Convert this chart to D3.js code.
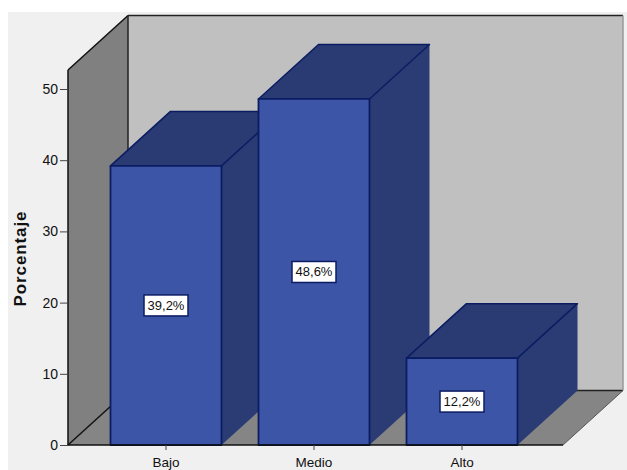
<!DOCTYPE html>
<html lang="es">
<head>
<meta charset="utf-8">
<script src="https://cdn.jsdelivr.net/npm/d3@7"></script>
<style>
  html, body { margin: 0; padding: 0; background: #fff; }
  svg { display: block; }
  text { font-family: "Liberation Sans", Arial, sans-serif; }
</style>
</head>
<body>
<svg id="chart" width="627" height="470"></svg>
<script>
// Nivel alcanzado: porcentaje por categoría
const categories = ["Bajo", "Medio", "Alto"];
const percentages = [39.2, 48.6, 12.2];
const percentLabels = ["39,2%", "48,6%", "12,2%"];
const yTicks = [0, 10, 20, 30, 40, 50];

const svg = d3.select("#chart");

// Oblique projection of the box: every depth edge shifts by the same offset
const depthX = 60, depthY = -54.5;
const frontLeft = 68, frontRight = 563, baseY = 445, topY = 70;

const y = d3.scaleLinear().domain([0, 50]).range([baseY, 89]);
const x = d3.scaleBand().domain(categories).range([92, 536])
  .paddingInner(0.25).paddingOuter(0.125);

const poly = (pts, fill, stroke, width) => svg.append("polygon")
  .attr("points", pts.map(p => p.join(",")).join(" "))
  .attr("fill", fill)
  .attr("stroke", stroke || "none")
  .attr("stroke-width", width || 0)
  .attr("stroke-linejoin", "round");

// Panel background
svg.append("rect").attr("x", 8).attr("y", 12).attr("width", 619).attr("height", 458).attr("fill", "#f0f0f0");

// Back wall, side wall and floor
poly([[frontLeft + depthX, topY + depthY], [frontRight + depthX, topY + depthY],
      [frontRight + depthX, baseY + depthY], [frontLeft + depthX, baseY + depthY]], "#c0c0c0");
poly([[frontLeft, topY], [frontLeft + depthX, topY + depthY],
      [frontLeft + depthX, baseY + depthY], [frontLeft, baseY]], "#808080");
poly([[frontLeft, baseY], [frontRight, baseY],
      [frontRight + depthX, baseY + depthY], [frontLeft + depthX, baseY + depthY]], "#858585");

const edge = (x1, y1, x2, y2, color, width) => svg.append("line")
  .attr("x1", x1).attr("y1", y1).attr("x2", x2).attr("y2", y2)
  .attr("stroke", color).attr("stroke-width", width);

edge(frontLeft, topY, frontLeft + depthX, topY + depthY, "#111", 1.5);
edge(frontLeft + depthX, topY + depthY, frontRight + depthX, topY + depthY, "#222", 1.5);
edge(frontLeft + depthX, topY + depthY, frontLeft + depthX, baseY + depthY, "#222", 1.5);
edge(frontLeft + depthX, baseY + depthY, frontRight + depthX, baseY + depthY, "#222", 1.5);
edge(frontRight + depthX, topY + depthY, frontRight + depthX, baseY + depthY, "#999", 1.5);
edge(frontLeft, baseY, frontLeft + depthX, baseY + depthY, "#111", 1.5);
edge(frontRight, baseY, frontRight + depthX, baseY + depthY, "#555", 1);

// Bars, painted left to right so nearer faces overlap correctly
const outline = "#0b1c62";
categories.forEach((cat, i) => {
  const x0 = x(cat), x1 = x0 + x.bandwidth(), yTop = y(percentages[i]);
  poly([[x1, yTop], [x1 + depthX, yTop + depthY], [x1 + depthX, baseY + depthY], [x1, baseY]], "#2b3c74");
  poly([[x0, yTop], [x1, yTop], [x1 + depthX, yTop + depthY], [x0 + depthX, yTop + depthY]], "#2a3a72", outline, 1.5);
  poly([[x0, yTop], [x1, yTop], [x1, baseY], [x0, baseY]], "#3d55a7", outline, 1.8);
});

// Percentage tags in the middle of each bar
categories.forEach((cat, i) => {
  const cx = x(cat) + x.bandwidth() / 2, cy = y(percentages[i] / 2);
  svg.append("rect").attr("x", cx - 22).attr("y", cy - 10.5).attr("width", 44).attr("height", 21)
    .attr("fill", "#fff").attr("stroke", outline).attr("stroke-width", 1.5);
  svg.append("text").attr("x", cx).attr("y", cy + 4.5).attr("text-anchor", "middle")
    .attr("font-size", 13).attr("fill", "#111").text(percentLabels[i]);
});

// Axes
const yAxis = svg.append("g").attr("transform", `translate(${frontLeft},0)`)
  .call(d3.axisLeft(y).tickValues(yTicks).tickSize(8).tickPadding(2).tickSizeOuter(0));
yAxis.select(".domain").attr("stroke", "#111").attr("stroke-width", 1.5).attr("d", `M0,${topY}V${baseY}`);
yAxis.selectAll("text").attr("font-size", 14).attr("fill", "#111").attr("font-family", "Liberation Sans");
yAxis.selectAll("line").attr("stroke", "#444");

const xAxis = svg.append("g").attr("transform", `translate(0,${baseY})`)
  .call(d3.axisBottom(x).tickSize(5).tickPadding(7).tickSizeOuter(0));
xAxis.select(".domain").attr("stroke", "#111").attr("stroke-width", 1.5).attr("d", `M${frontLeft},0H${frontRight}`);
xAxis.selectAll("text").attr("font-size", 13.5).attr("fill", "#111").attr("font-family", "Liberation Sans");
xAxis.selectAll("line").attr("stroke", "#444");

// Y axis title
svg.append("text").attr("transform", "translate(26,258.5) rotate(-90)")
  .attr("text-anchor", "middle").attr("font-size", 17).attr("font-weight", "bold")
  .attr("letter-spacing", 0.9).attr("fill", "#111").text("Porcentaje");
</script>
</body>
</html>
